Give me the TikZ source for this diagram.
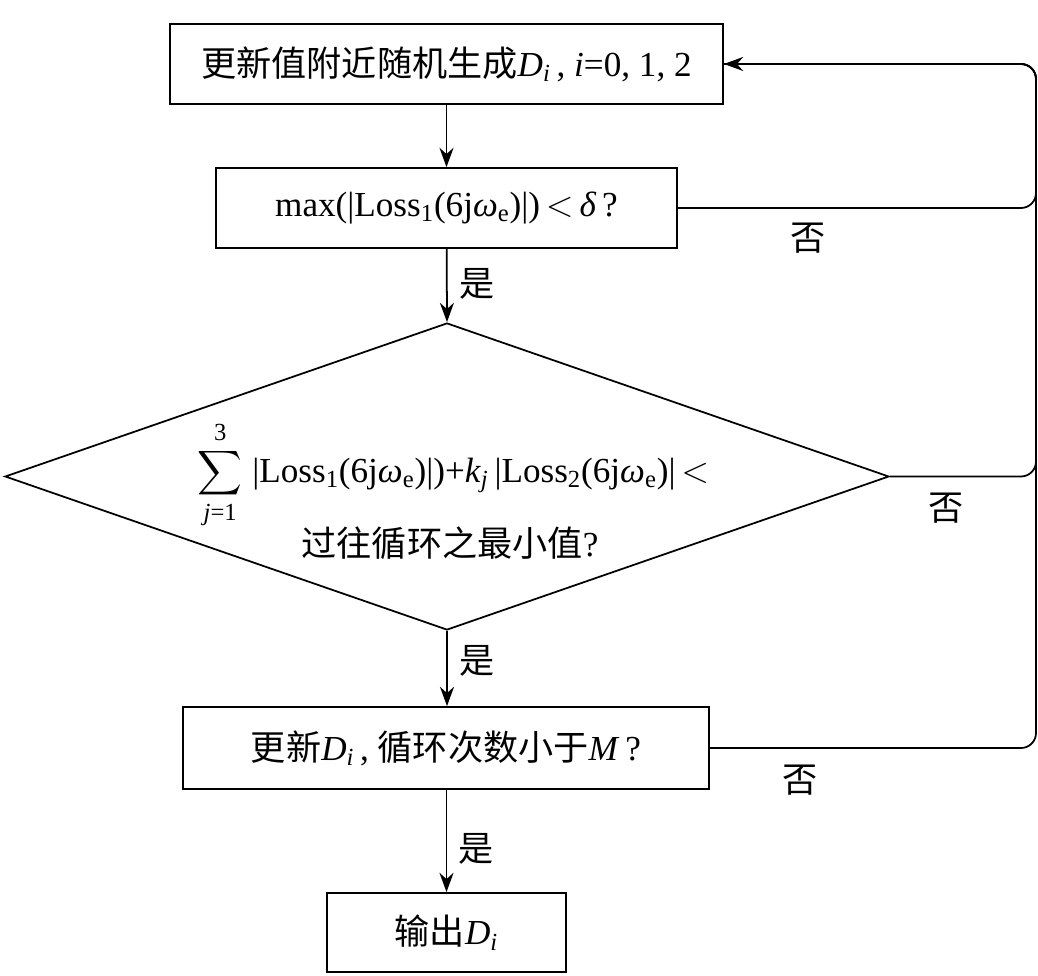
\documentclass[tikz,border=0pt]{standalone}
\usepackage{amsmath}
\usepackage{fontspec}
\setmainfont{Liberation Serif}
\newfontfamily\cjk{Noto Sans CJK SC}
\usetikzlibrary{positioning, shapes.geometric, arrows.meta, calc}
\newcommand{\zh}[1]{{\cjk #1}}
\newcommand{\Di}{\textit{D}\textsubscript{\textit{i}}}
\newcommand{\Lossw}[1]{|Loss\textsubscript{#1}(6j\textit{ω}\textsubscript{e})|}
\newcommand{\bigsum}{\mathop{\vcenter{\hbox{\scalebox{0.85}{$\displaystyle\sum$}}}}\limits}

\begin{document}
\begin{tikzpicture}[
        every node/.style={font=\fontsize{20}{24}\selectfont},
        stepbox/.style={rectangle, draw, line width=1pt, inner sep=0pt, align=center},
        decide/.style={diamond, draw, line width=1pt, inner sep=0pt, aspect=2.88},
        flow/.style={line width=1pt, -{Stealth[length=11pt, width=8pt]}},
        back/.style={line width=1pt, rounded corners=0.3cm},
        yesno/.style={inner sep=0pt}]
        \useasboundingbox (0, 0) rectangle (20.76, -19.52);
        \node[stepbox, minimum width=11.06cm, minimum height=1.6cm] (gen) at (8.93, -1.28)
            {\zh{更新值附近随机生成}\Di\,, \textit{i}=0, 1, 2};
        \node[stepbox, minimum width=9.22cm, minimum height=1.6cm] (chk) at (8.93, -4.16)
            {max(\Lossw{1})\,$<$\,\textit{δ}\,?};
        \node[decide, minimum width=17.68cm, minimum height=6.14cm] (cmp) at (8.94, -9.53) {};
        \node[anchor=base, inner sep=0pt] (sumline) at (9.07, -9.64)
            {$\bigsum_{\text{\itshape j\upshape =1}}^{\text{3}}$\;\Lossw{1})+\textit{k}\textsubscript{\textit{j}}\,\Lossw{2}\,$<$};
        \node[inner sep=0pt] (minline) at (9.0, -10.86) {\zh{过往循环之最小值}?};
        \node[stepbox, minimum width=10.52cm, minimum height=1.64cm] (upd) at (8.92, -14.96)
            {\zh{更新}\Di\,, \zh{循环次数小于}\textit{M}\,?};
        \node[stepbox, minimum width=4.78cm, minimum height=1.58cm] (out) at (8.93, -18.65)
            {\zh{输出}\Di};
        \coordinate (loop) at (20.72, 0);
        % main path
        \draw[flow] (gen) -- (chk);
        \draw[flow] (chk) -- (cmp.north);
        \draw[flow] (cmp.south) -- (cmp.south |- upd.north);
        \draw[flow] (upd.south -| out.north) -- (out.north);
        \node[yesno, right=0.25cm of chk.south, yshift=-0.7cm] (y1) {\zh{是}};
        \node[yesno, right=0.25cm of cmp.south, yshift=-0.6cm] (y2) {\zh{是}};
        \node[yesno, right=0.25cm of upd.south, yshift=-1.18cm] (y3) {\zh{是}};
        % loop back
        \draw[back] (chk.east) -- (chk.east -| loop) -- (gen.east -| loop) -- (gen.east);
        \draw[back] (cmp.east) -- (cmp.east -| loop) -- (gen.east -| loop) -- (gen.east);
        \draw[back] (upd.east) -- (upd.east -| loop) -- (gen.east -| loop) -- (gen.east);
        \draw[flow] ($(gen.east)+(0.3,0)$) -- (gen.east);
        \node[yesno] (n1) at (16.16, -4.76) {\zh{否}};
        \node[yesno] (n2) at (18.92, -10.16) {\zh{否}};
        \node[yesno] (n3) at (16.0, -15.6) {\zh{否}};
\end{tikzpicture}
\end{document}
